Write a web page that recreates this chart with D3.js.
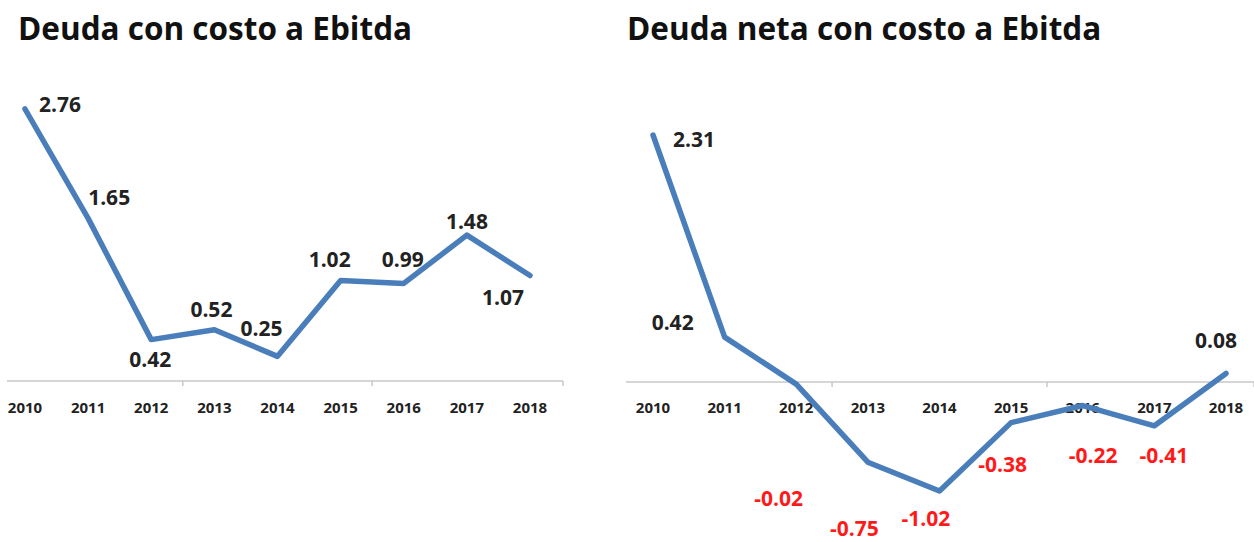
<!DOCTYPE html>
<html>
<head>
<meta charset="utf-8">
<script src="https://cdn.jsdelivr.net/npm/d3@7"></script>
<style>
  body { margin: 0; background: #fff; }
  text { font-family: "Open Sans", sans-serif; font-weight: bold; }
</style>
</head>
<body>
<div id="chart"></div>
<script>
// data
var years = ["2010", "2011", "2012", "2013", "2014", "2015", "2016", "2017", "2018"];
var deudaCosto = [2.76, 1.65, 0.42, 0.52, 0.25, 1.02, 0.99, 1.48, 1.07];
var deudaNeta = [2.31, 0.42, -0.02, -0.75, -1.02, -0.38, -0.22, -0.41, 0.08];
var titles = ["Deuda con costo a Ebitda", "Deuda neta con costo a Ebitda"];

// label placement (dx, dy from point, text-anchor start)
var offsetsLeft = [[14, -4], [0, -20], [-22, 20], [-24, -20], [-37, -27], [-32, -20], [-22, -23], [-21, -13], [-48, 22]];
var offsetsRight = [[20, 5], [-73, -14], [-42, 115], [-38, 67], [-38, 28], [-33, 42], [-14, 50], [-15, 30], [-31, -32]];

var width = 1254, height = 542;
var lineColor = "#4a7ebb";

var svg = d3.select("#chart").append("svg")
    .attr("width", width)
    .attr("height", height);

function drawPanel(opts) {
    var x = d3.scalePoint().domain(years).range(opts.xRange);
    var y = d3.scaleLinear().domain(opts.yDomain).range(opts.yRange);
    var step = x.step();
    var g = svg.append("g");

    g.append("text")
        .attr("x", opts.titleX)
        .attr("y", 40)
        .attr("font-size", 31.5)
        .attr("fill", "#111")
        .text(opts.title);

    // category axis at zero
    var y0 = y(0);
    g.append("line")
        .attr("x1", opts.axisStart).attr("x2", opts.axisEnd)
        .attr("y1", y0).attr("y2", y0)
        .attr("stroke", "#c8c8c8").attr("stroke-width", 1.5);

    // tick marks every three categories
    [2, 5, 8].forEach(function(i) {
        var tx = i < 8 ? x(years[i]) + step / 2 : opts.axisEnd;
        if (tx > width) return;
        g.append("line")
            .attr("x1", tx).attr("x2", tx)
            .attr("y1", y0).attr("y2", y0 + 5)
            .attr("stroke", "#c8c8c8").attr("stroke-width", 1.5);
    });

    g.selectAll("text.year")
        .data(years)
        .enter().append("text")
        .attr("class", "year")
        .attr("x", function(d) { return x(d); })
        .attr("y", opts.yearY)
        .attr("text-anchor", "middle")
        .attr("font-size", 15)
        .attr("fill", "#222")
        .text(function(d) { return d; });

    var line = d3.line()
        .x(function(d, i) { return x(years[i]); })
        .y(function(d) { return y(d); });

    g.append("path")
        .datum(opts.values)
        .attr("d", line)
        .attr("fill", "none")
        .attr("stroke", lineColor)
        .attr("stroke-width", 5.5)
        .attr("stroke-linejoin", "round")
        .attr("stroke-linecap", "round");

    g.selectAll("text.val")
        .data(opts.values)
        .enter().append("text")
        .attr("class", "val")
        .attr("x", function(d, i) { return x(years[i]) + opts.offsets[i][0]; })
        .attr("y", function(d, i) { return y(d) + opts.offsets[i][1] + 7; })
        .attr("font-size", 21)
        .attr("fill", function(d) { return d < 0 ? "#ff1a1a" : "#222"; })
        .text(function(d) { return d.toFixed(2); });
}

drawPanel({
    title: titles[0], titleX: 18,
    values: deudaCosto, offsets: offsetsLeft,
    xRange: [25, 530], yDomain: [0, 2.76], yRange: [381, 109],
    axisStart: 7, axisEnd: 563, yearY: 413
});

drawPanel({
    title: titles[1], titleX: 627,
    values: deudaNeta, offsets: offsetsRight,
    xRange: [653, 1226], yDomain: [0, 2.31], yRange: [382, 135],
    axisStart: 626, axisEnd: 1254, yearY: 413
});
</script>
</body>
</html>
